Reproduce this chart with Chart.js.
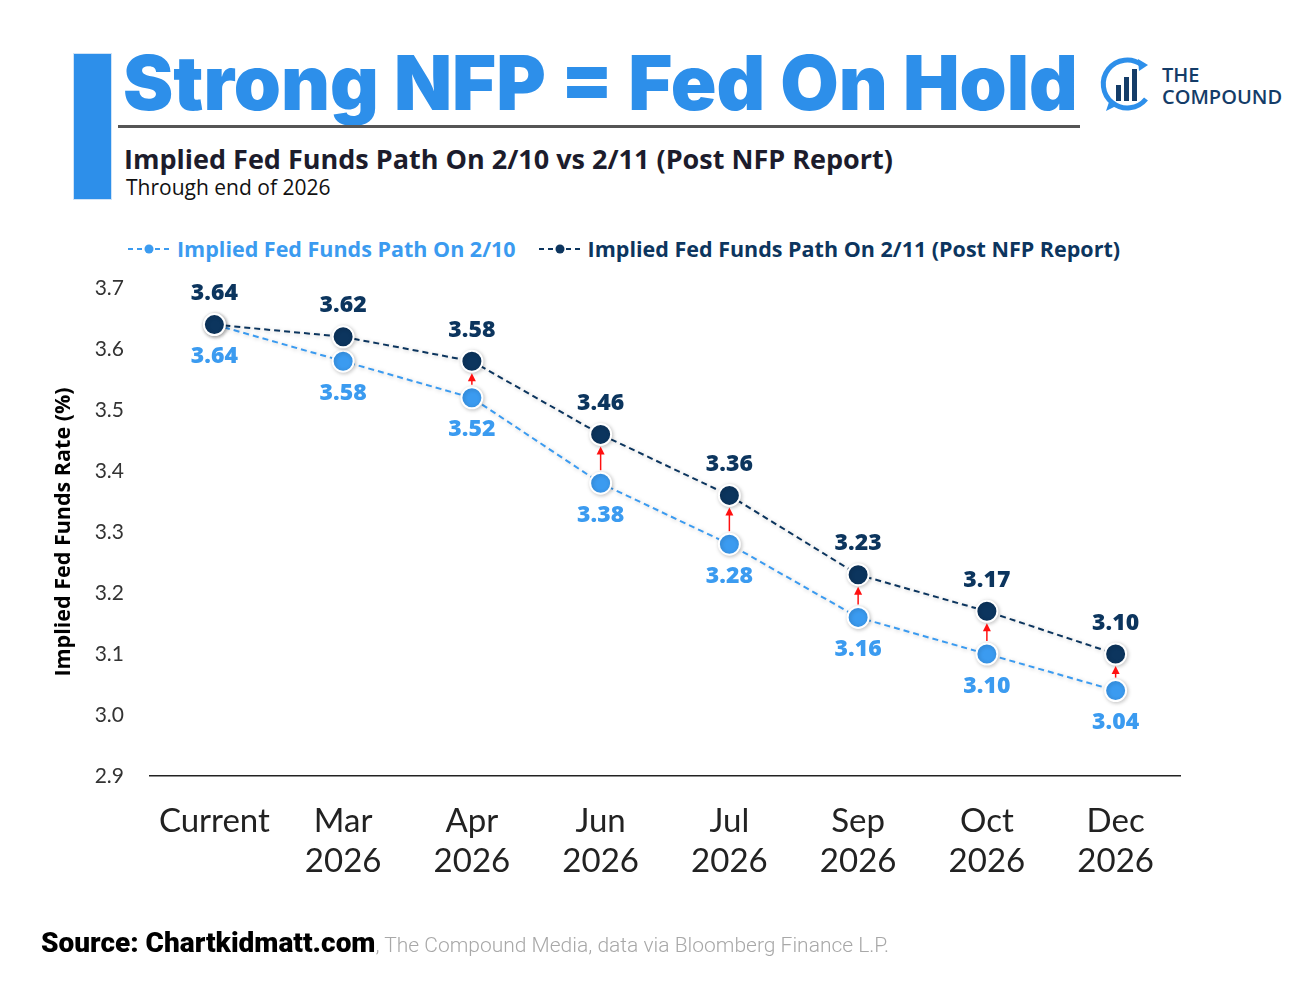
<!DOCTYPE html>
<html>
<head>
<meta charset="utf-8">
<script src="https://cdn.jsdelivr.net/npm/chart.js@4.4.1/dist/chart.umd.min.js"></script>
<style>
  html, body { margin: 0; padding: 0; background: #fff; }
  body { width: 1312px; height: 984px; position: relative; overflow: hidden; font-family: Lato, "Open Sans", sans-serif; }
  #bar { position: absolute; left: 73px; top: 53px; width: 37px; height: 145px; background: #2d8fea; border: 1px solid #cfe3f7; }
  #title { position: absolute; left: 123px; top: 37px; font-family: Inter, Lato, sans-serif; font-weight: 900; font-size: 75.5px; color: #2d8fea; white-space: nowrap; letter-spacing: 0px; }
  #rule { position: absolute; left: 118px; top: 125px; width: 962px; height: 3px; background: #555; }
  #sub { position: absolute; left: 124px; top: 140px; font-family: "Open Sans", Lato, sans-serif; font-weight: 700; font-size: 27px; color: #1c1c2c; white-space: nowrap; }
  #sub2 { position: absolute; left: 126px; top: 173px; font-family: "Open Sans", Lato, sans-serif; font-size: 21px; color: #111; white-space: nowrap; }
  #logo { position: absolute; left: 1098px; top: 55px; width: 60px; height: 60px; }
  #logoText { position: absolute; left: 1162px; top: 64px; font-family: "Open Sans", sans-serif; font-weight: 600; font-size: 20px; line-height: 22px; color: #143c68; }
  #legend { position: absolute; left: 128px; top: 234px; display: flex; align-items: center; white-space: nowrap; font-family: "Open Sans", Lato, sans-serif; font-weight: 700; font-size: 21.5px; }
  .item { display: flex; align-items: center; margin-right: 23px; }
  .item svg { margin-right: 4px; }
  #source { position: absolute; left: 41px; top: 926px; white-space: nowrap; font-family: Roboto, sans-serif; font-size: 28px; }
  #source b { font-weight: 900; color: #000; }
  #source span { color: #a8a8a8; font-weight: 300; font-size: 21px; }
  #wrap { position: absolute; left: 0; top: 0; width: 1312px; height: 984px; }
</style>
</head>
<body>
<div id="bar"></div>
<div id="title">Strong NFP = Fed On Hold</div>
<div id="rule"></div>
<div id="sub">Implied Fed Funds Path On 2/10 vs 2/11 (Post NFP Report)</div>
<div id="sub2">Through end of 2026</div>
<svg id="logo" viewBox="0 0 60 60">
  <path d="M44 10 A24 24 0 1 0 48 44" fill="none" stroke="#2d8fea" stroke-width="5"/>
  <path d="M40 4 L50 10 L41 16 Z" fill="#2d8fea"/>
  <path d="M12 44 L8 56 L20 50 Z" fill="#2d8fea"/>
  <rect x="18" y="30" width="5" height="16" fill="#143c68"/>
  <rect x="26" y="22" width="5" height="24" fill="#143c68"/>
  <rect x="34" y="14" width="5" height="32" fill="#143c68"/>
</svg>
<div id="logoText">THE<br>COMPOUND</div>
<div id="legend"></div>
<div id="wrap"><canvas id="chart" width="1312" height="984"></canvas></div>
<div id="source"><b>Source: Chartkidmatt.com</b><span>, The Compound Media, data via Bloomberg Finance L.P.</span></div>

<script>
// Chart data
const categories = [['Current'], ['Mar', '2026'], ['Apr', '2026'], ['Jun', '2026'], ['Jul', '2026'], ['Sep', '2026'], ['Oct', '2026'], ['Dec', '2026']];
const path0210 = [3.64, 3.58, 3.52, 3.38, 3.28, 3.16, 3.10, 3.04];
const path0211 = [3.64, 3.62, 3.58, 3.46, 3.36, 3.23, 3.17, 3.10];
const yTicks = [2.9, 3.0, 3.1, 3.2, 3.3, 3.4, 3.5, 3.6, 3.7];
const arrowAt = [2, 3, 4, 5, 6, 7];

const DARK = '#0c355e';
const LIGHT = '#3b9bf0';
const names = ['Implied Fed Funds Path On 2/11 (Post NFP Report)', 'Implied Fed Funds Path On 2/10'];

// HTML legend
function buildLegend() {
    const el = document.getElementById('legend');
    [[names[1], LIGHT], [names[0], DARK]].forEach(([label, color]) => {
        const item = document.createElement('div');
        item.className = 'item';
        item.innerHTML = `<svg width="45" height="14"><line x1="0" y1="7" x2="45" y2="7" stroke="${color}" stroke-width="2" stroke-dasharray="5,4"/><circle cx="21" cy="7" r="4.5" fill="${color}"/></svg><span style="color:${color}">${label}</span>`;
        el.appendChild(item);
    });
}
buildLegend();

// shadow under lines and points
const shadowPlugin = {
    id: 'shadow',
    beforeDatasetsDraw(chart) {
        const c = chart.ctx;
        c.save();
        c.shadowColor = 'rgba(0,0,0,0.22)';
        c.shadowBlur = 4;
        c.shadowOffsetX = 1;
        c.shadowOffsetY = 1;
    },
    afterDatasetsDraw(chart) {
        chart.ctx.restore();
    }
};

// value labels + red arrows
const labelPlugin = {
    id: 'labels',
    afterDatasetsDraw(chart) {
        const c = chart.ctx;
        const dark = chart.getDatasetMeta(0).data;
        const light = chart.getDatasetMeta(1).data;
        c.save();
        // arrows
        c.strokeStyle = '#ff1010';
        c.fillStyle = '#ff1010';
        c.lineWidth = 1.5;
        arrowAt.forEach(i => {
            const x = light[i].x;
            const y0 = light[i].y - 13;
            const y1 = dark[i].y + 12;
            c.beginPath();
            c.moveTo(x, y0);
            c.lineTo(x, y1 + 6);
            c.stroke();
            c.beginPath();
            c.moveTo(x, y1);
            c.lineTo(x - 4, y1 + 8);
            c.lineTo(x + 4, y1 + 8);
            c.closePath();
            c.fill();
        });
        c.font = '800 23px "Open Sans", sans-serif';
        c.textAlign = 'center';
        c.textBaseline = 'middle';
        dark.forEach((p, i) => {
            c.fillStyle = DARK;
            c.fillText(path0211[i].toFixed(2), p.x, p.y - 31);
        });
        light.forEach((p, i) => {
            c.fillStyle = LIGHT;
            c.fillText(path0210[i].toFixed(2), p.x, p.y + 32);
        });
        c.restore();
    }
};

const ctx = document.getElementById('chart').getContext('2d');
new Chart(ctx, {
    type: 'line',
    data: {
        labels: categories,
        datasets: [{
            label: names[0],
            data: path0211,
            borderColor: DARK,
            borderWidth: 2,
            borderDash: [6, 4],
            pointBackgroundColor: DARK,
            pointBorderColor: '#ffffff',
            pointBorderWidth: 2,
            pointRadius: 10.5,
            tension: 0
        }, {
            label: names[1],
            data: path0210,
            borderColor: LIGHT,
            borderWidth: 2,
            borderDash: [6, 4],
            pointBackgroundColor: LIGHT,
            pointBorderColor: '#ffffff',
            pointBorderWidth: 2,
            pointRadius: 10.5,
            tension: 0
        }]
    },
    options: {
        responsive: false,
        animation: false,
        layout: { padding: { left: 0, right: 132, top: 288, bottom: 0 } },
        plugins: {
            legend: { display: false },
            tooltip: { enabled: false }
        },
        scales: {
            x: {
                offset: true,
                grid: { display: false },
                border: { display: true, color: '#222', width: 1.5 },
                ticks: {
                    color: '#222',
                    padding: 17,
                    maxRotation: 0,
                    font: { family: 'Lato, sans-serif', size: 33, lineHeight: 1.22 }
                },
                afterFit(scale) { scale.height = 208; }
            },
            y: {
                min: 2.9,
                max: 3.7,
                grid: { display: false },
                border: { display: false },
                afterBuildTicks(scale) { scale.ticks = yTicks.map(v => ({ value: v })); },
                ticks: {
                    color: '#333',
                    padding: 18,
                    font: { family: 'Lato, sans-serif', size: 21 },
                    callback: v => Number(v).toFixed(1)
                },
                title: {
                    display: true,
                    text: 'Implied Fed Funds Rate (%)',
                    color: '#000',
                    font: { family: '"Open Sans", sans-serif', size: 21.5, weight: 'bold' },
                    padding: { top: 51, bottom: 0 }
                },
                afterFit(scale) { scale.width = 150; }
            }
        }
    },
    plugins: [shadowPlugin, labelPlugin]
});
</script>
</body>
</html>
